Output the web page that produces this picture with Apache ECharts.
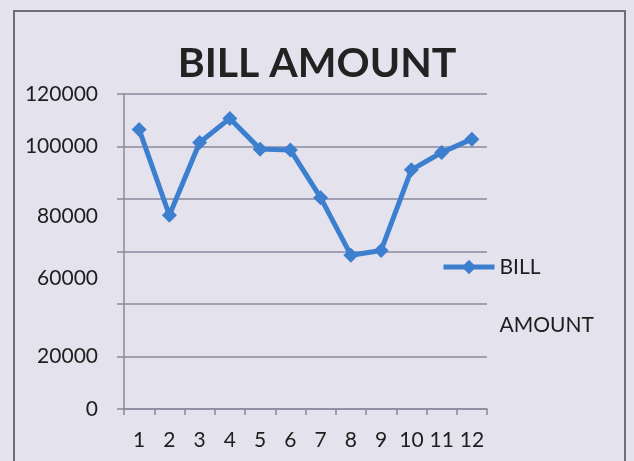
<html lang="en">
<head>
    <meta charset="UTF-8">
    <title>BILL AMOUNT</title>
    <script src="https://cdn.jsdelivr.net/npm/echarts@6/dist/echarts.min.js"></script>
    <style>
        body { margin: 0; background: #e4e2ed; }
        #wrapper { position: relative; width: 634px; height: 461px; }
        #frame { position: absolute; left: 13px; top: 10px; width: 613px; height: 470px;
                 border: 2px solid #6f6c80; box-sizing: border-box; }
        #bill { position: absolute; left: 0; top: 0; width: 634px; height: 461px; }
    </style>
</head>
<body>
<div id="wrapper">
    <div id="frame"></div>
    <div id="bill"></div>
    <script type="text/javascript">
        // data
        var months = ['1', '2', '3', '4', '5', '6', '7', '8', '9', '10', '11', '12'];
        var bill_amount = [106500, 73800, 101500, 110700, 99000, 98700, 80500, 58600, 60400, 91100, 97700, 102800];
        var y_ticks = [0, 20000, 40000, 60000, 80000, 100000, 120000];
        var hidden_ticks = [40000];

        var line_color = '#3d7fcf';
        var grid_color = '#8c889e';

        var myChart = echarts.init(document.getElementById('bill'));

        var option = {
            backgroundColor: 'transparent',
            textStyle: {fontFamily: 'Lato', color: '#1e1e1e'},
            title: {
                text: 'BILL AMOUNT',
                left: 'center',
                top: 38,
                textStyle: {fontFamily: 'Lato', fontWeight: 'bold', fontSize: 41, color: '#222'}
            },
            legend: {
                left: 436,
                top: 175,
                itemWidth: 51,
                itemHeight: 18,
                itemGap: 0,
                lineStyle: {width: 5},
                formatter: function () {
                    return '\nBILL\nAMOUNT';
                },
                textStyle: {fontFamily: 'Lato', fontSize: 21, color: '#1e1e1e', lineHeight: 58}
            },
            grid: {
                left: 124,
                right: 147,
                top: 94,
                bottom: 52
            },
            xAxis: {
                type: 'category',
                data: months,
                boundaryGap: true,
                axisLine: {lineStyle: {color: grid_color, width: 1.5}},
                axisTick: {show: true, interval: 0, length: 6, alignWithLabel: false, lineStyle: {color: grid_color, width: 1.5}},
                axisLabel: {interval: 0, fontFamily: 'Lato', fontSize: 21, color: '#1e1e1e', margin: 21}
            },
            yAxis: {
                type: 'value',
                min: y_ticks[0],
                max: y_ticks[y_ticks.length - 1],
                interval: 20000,
                axisLine: {show: true, lineStyle: {color: grid_color, width: 1.5}},
                axisTick: {show: true, length: 7, lineStyle: {color: grid_color, width: 1.5}},
                splitLine: {lineStyle: {color: grid_color, width: 1.5}},
                axisLabel: {
                    fontFamily: 'Lato', fontSize: 21, color: '#1e1e1e', margin: 26,
                    formatter: function (v) {
                        if (hidden_ticks.indexOf(v) >= 0) return '';
                        if (v === 80000) return '{lo|' + v + '}';
                        if (v === 60000) return '{lower|' + v + '}';
                        return String(v);
                    },
                    rich: {
                        lo: {fontFamily: 'Lato', fontSize: 21, color: '#1e1e1e', padding: [34, 0, 0, 0]},
                        lower: {fontFamily: 'Lato', fontSize: 21, color: '#1e1e1e', padding: [54, 0, 0, 0]}
                    }
                }
            },
            series: [{
                name: 'BILL AMOUNT',
                type: 'line',
                data: bill_amount,
                symbol: 'diamond',
                symbolSize: 15,
                itemStyle: {color: line_color},
                lineStyle: {color: line_color, width: 5}
            }]
        };

        myChart.setOption(option);
    </script>
</div>
</body>
</html>
